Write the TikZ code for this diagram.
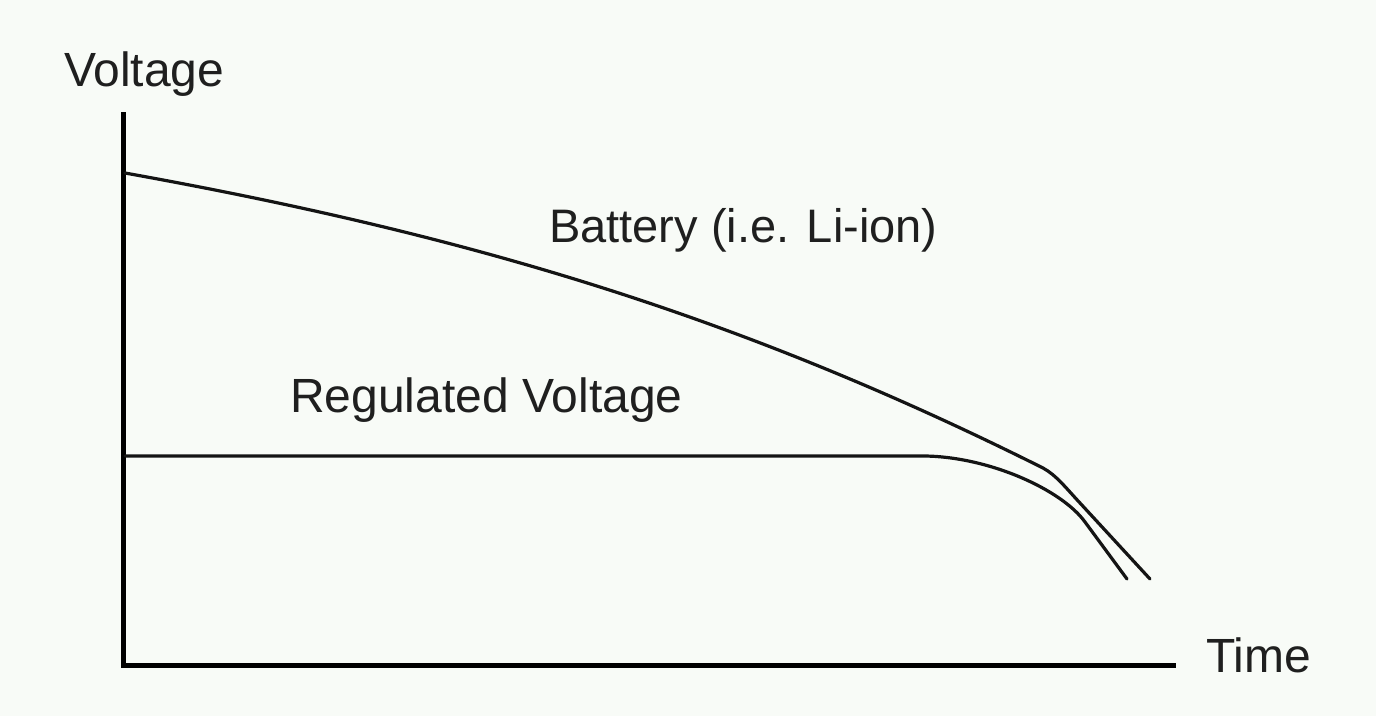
\documentclass[tikz,border=0pt]{standalone}
\usepackage{fontspec}
\setmainfont{Liberation Sans}
\begin{document}
\begin{tikzpicture}[x=1pt,y=-1pt,
  lbl/.style={inner sep=0pt,anchor=base west,font=\fontsize{48}{56}\selectfont,text=black!88},
  axis/.style={line width=5pt,black},
  curve/.style={line width=3.2pt,black!92,line cap=round,line join=round}]
\fill[fill={rgb,255:red,248;green,251;blue,247}] (0,0) rectangle (1376,716);
\useasboundingbox (0,0) rectangle (1376,716);
\coordinate (top) at (123,112);
\coordinate (orig) at (123,665);
\coordinate (right) at (1176,665);
\draw[axis] (top) -- (orig) -- (right);
\node[lbl] (vlab) at (64,86) {Voltage};
\node[lbl] (tlab) at (1206,672) {Time};
\node[lbl,font=\fontsize{47}{56}\selectfont] (blab) at (549,242) {Battery (i.e. Li-ion)};
\node[lbl] (rlab) at (290,412) {Regulated Voltage};
\coordinate (b0) at (125,173);
\coordinate (b1) at (1043,468);
\coordinate (b2) at (1080,503);
\coordinate (b3) at (1150,579);
\draw[curve] (b0) .. controls (475,236) and (743,318) .. (b1)
  .. controls (1056,475) and (1066,488) .. (b2) -- (b3);
\coordinate (r0) at (125,456);
\coordinate (r1) at (925,456);
\coordinate (r2) at (1085,522);
\coordinate (r3) at (1127,579);
\draw[curve] (r0) -- (r1) .. controls (990,457) and (1062,490) .. (r2) -- (r3);
\end{tikzpicture}
\end{document}
